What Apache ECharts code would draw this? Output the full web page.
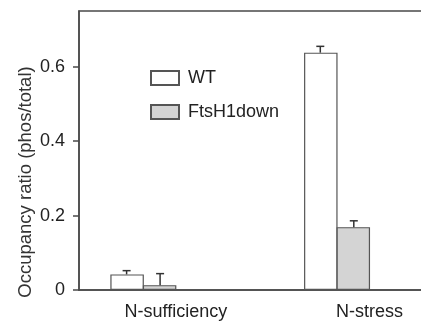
<!DOCTYPE html>
<html>
<head>
<meta charset="utf-8">
<script src="https://cdn.jsdelivr.net/npm/echarts@6/dist/echarts.min.js"></script>
<style>html,body{margin:0;padding:0;background:#fff;overflow:hidden}#c{width:470px;height:326px}</style>
</head>
<body>
<div id="c"></div>
<script>
var categories = ['N-sufficiency', 'N-stress'];
var seriesNames = ['WT', 'FtsH1down'];
var wtValues = [0.042, 0.638];
var wtErrors = [0.010, 0.017];
var ftsValues = [0.013, 0.169];
var ftsErrors = [0.031, 0.017];
var yTicks = [0, 0.2, 0.4, 0.6];

var FONT = 'Liberation Sans, Arial, sans-serif';
var AXIS_COLOR = '#4a4a4a';
var BAR_W = 33.5;

function errData(vals, errs, side) {
  return vals.map(function (v, i) { return [i, v, v + errs[i], side]; });
}

var chart = echarts.init(document.getElementById('c'), null, {renderer: 'canvas'});
chart.setOption({
  animation: false,
  grid: [
    {left: 79, top: 11, right: 3.6, bottom: 36, show: true, borderColor: AXIS_COLOR, borderWidth: 1.5, backgroundColor: 'transparent'},
    {left: 46.5, top: 11, right: 36.1, bottom: 36}
  ],
  legend: {
    orient: 'vertical', left: 145, top: 64,
    itemWidth: 28, itemHeight: 14, itemGap: 16, icon: 'rect',
    data: seriesNames,
    textStyle: {fontFamily: FONT, fontSize: 18, color: '#222', padding: [6, 0, 0, 4]}
  },
  xAxis: [
    {
      type: 'category', gridIndex: 0, data: categories, boundaryGap: true,
      axisLine: {lineStyle: {color: AXIS_COLOR, width: 1.5}},
      axisTick: {alignWithLabel: true, length: 4, lineStyle: {color: AXIS_COLOR, width: 1.5}},
      axisLabel: {fontFamily: FONT, fontSize: 18, color: '#222', margin: 13},
      splitLine: {show: false}
    },
    {
      type: 'category', gridIndex: 1, data: categories, boundaryGap: true, show: false
    }
  ],
  yAxis: [
    {
      type: 'value', gridIndex: 0, min: 0, max: 0.75, interval: 0.2,
      name: 'Occupancy ratio (phos/total)', nameLocation: 'middle', nameRotate: 90, nameGap: 44,
      nameMoveOverlap: false,
      nameTextStyle: {fontFamily: FONT, fontSize: 18.5, color: '#333', padding: [0, 63, 0, 0]},
      axisLine: {show: true, lineStyle: {color: AXIS_COLOR, width: 1.5}},
      axisTick: {show: true, length: 6, customValues: yTicks, lineStyle: {color: AXIS_COLOR, width: 1.5}},
      axisLabel: {fontFamily: FONT, fontSize: 18, color: '#222', margin: 14, customValues: yTicks,
        formatter: function (v) { return v === 0 ? '0' : v.toFixed(1); }},
      splitLine: {show: false}
    },
    {
      type: 'value', gridIndex: 1, min: 0, max: 0.75, show: false, splitLine: {show: false}
    }
  ],
  series: [
    {
      name: seriesNames[0], type: 'bar', xAxisIndex: 1, yAxisIndex: 1,
      data: wtValues, barWidth: BAR_W, barGap: '-3%',
      itemStyle: {color: '#ffffff', borderColor: '#555', borderWidth: 1.2}
    },
    {
      name: seriesNames[1], type: 'bar', xAxisIndex: 1, yAxisIndex: 1,
      data: ftsValues, barWidth: BAR_W, barGap: '-3%',
      itemStyle: {color: '#d4d4d4', borderColor: '#555', borderWidth: 1.2}
    },
    {
      type: 'custom', xAxisIndex: 1, yAxisIndex: 1, z: 5,
      data: errData(wtValues, wtErrors, -1).concat(errData(ftsValues, ftsErrors, 1)),
      renderItem: function (params, api) {
        var base = api.coord([api.value(0), api.value(1)]);
        var top = api.coord([api.value(0), api.value(2)]);
        var x = base[0] + api.value(3) * BAR_W / 2;
        var style = {stroke: '#333', lineWidth: 1.5};
        return {
          type: 'group',
          children: [
            {type: 'line', shape: {x1: x, y1: base[1], x2: x, y2: top[1]}, style: style},
            {type: 'line', shape: {x1: x - 4, y1: top[1], x2: x + 4, y2: top[1]}, style: style}
          ]
        };
      }
    }
  ]
});
</script>
</body>
</html>
